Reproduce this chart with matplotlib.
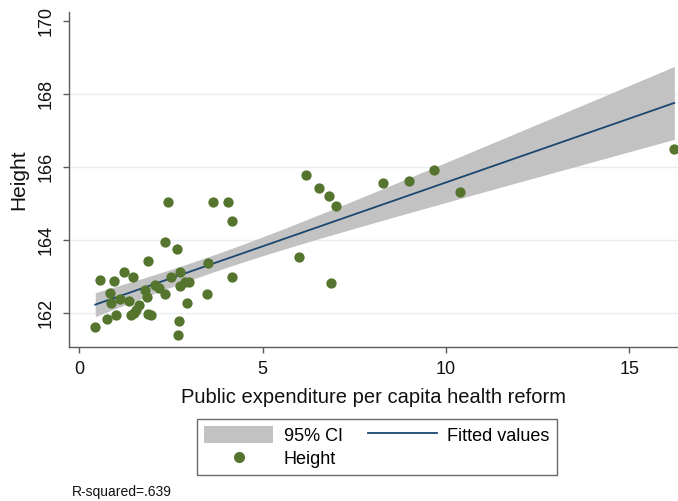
import numpy as np
import matplotlib
matplotlib.use("Agg")
import matplotlib.pyplot as plt
from matplotlib.patches import Patch
from matplotlib.lines import Line2D

plt.rcParams["font.family"] = ["Liberation Sans", "DejaVu Sans"]

# Public expenditure per capita (health reform) and average height
expenditure = [0.43, 0.57, 0.75, 0.82, 0.86, 0.93, 0.99, 1.10, 1.22, 1.36,
               1.40, 1.47, 1.49, 1.55, 1.61, 1.79, 1.85, 1.88, 1.87, 1.94,
               2.07, 2.17, 2.32, 2.33, 2.42, 2.49, 2.66, 2.73, 2.75, 2.71,
               2.69, 2.88, 3.00, 2.93, 3.48, 3.51, 3.64, 4.05, 4.17, 4.17,
               5.98, 6.18, 6.54, 6.81, 6.86, 7.00, 8.28, 8.99, 9.68, 10.39,
               16.23]
height = [161.62, 162.90, 161.84, 162.53, 162.28, 162.86, 161.93, 162.38, 163.11, 162.32,
          161.94, 162.97, 161.98, 162.08, 162.20, 162.62, 162.44, 163.43, 161.97, 161.94,
          162.75, 162.68, 162.52, 163.94, 165.04, 162.97, 163.75, 163.11, 162.74, 161.77,
          161.39, 162.85, 162.85, 162.28, 162.52, 163.37, 165.04, 165.04, 164.52, 162.99,
          163.52, 165.78, 165.41, 165.20, 162.82, 164.93, 165.56, 165.61, 165.91, 165.32,
          166.48]

x_ticks = [0, 5, 10, 15]
y_ticks = [162, 164, 166, 168, 170]
grid_levels = [162, 164, 166, 168]
r_squared_label = "R-squared=.639"

x = np.asarray(expenditure)
y = np.asarray(height)

# OLS fit with 95% confidence band for the mean prediction
n = len(x)
slope, intercept = np.polyfit(x, y, 1)
resid = y - (intercept + slope * x)
s = np.sqrt(np.sum(resid ** 2) / (n - 2))
t_crit = 2.0096  # t(0.975, df=49)
xg = np.linspace(x.min(), x.max(), 200)
yg = intercept + slope * xg
se = s * np.sqrt(1.0 / n + (xg - x.mean()) ** 2 / np.sum((x - x.mean()) ** 2))
lo, hi = yg - t_crit * se, yg + t_crit * se

W, H = 678, 501
fig = plt.figure(figsize=(W / 100, H / 100), dpi=100)
left, right, top, bottom = 68.5, 678, 12, 347
ax = fig.add_axes([left / W, 1 - bottom / H, (right - left) / W, (bottom - top) / H])

green = "#55752f"
navy = "#1a476f"
band = "#c2c2c2"
axis_gray = "#5a5a5a"

for g in grid_levels:
    ax.axhline(g, color="#e6eef0", lw=1.0, zorder=0)

ax.fill_between(xg, lo, hi, color=band, lw=0, zorder=1)
ax.plot(xg, yg, color=navy, lw=1.3, zorder=2)
ax.scatter(x, y, s=55, color=green, lw=0, zorder=3)

ax.set_xlim(-0.30, 16.33)
ax.set_ylim(161.06, 170.25)
ax.set_xticks(x_ticks)
ax.set_yticks(y_ticks)
ax.set_yticklabels([str(v) for v in y_ticks], rotation=90, va="center")

for side in ["top", "right"]:
    ax.spines[side].set_visible(False)
for side in ["left", "bottom"]:
    ax.spines[side].set_color(axis_gray)
    ax.spines[side].set_linewidth(1.0)
ax.tick_params(direction="out", length=4, width=1, color=axis_gray,
               labelsize=13, labelcolor="#111111", pad=6)

ax.set_xlabel("Public expenditure per capita health reform", fontsize=14.5,
              color="#111111", labelpad=7)
ax.set_ylabel("Height", fontsize=15, color="#111111", labelpad=7)

handles = [Patch(facecolor=band, edgecolor="none", label="95% CI"),
           Line2D([], [], ls="none", marker="o", ms=7, color=green, label="Height"),
           Line2D([], [], color=navy, lw=1.3, label="Fitted values")]
leg = fig.legend(handles=handles, ncol=2, loc="center",
                 bbox_to_anchor=(377 / W, 1 - 447 / H), fontsize=13,
                 frameon=True, fancybox=False, edgecolor="#444444",
                 handlelength=3.8, handleheight=1.1, columnspacing=1.4,
                 handletextpad=0.6, borderpad=0.4, labelspacing=0.25)
leg.get_frame().set_linewidth(1.0)

fig.text(72 / W, 1 - 492 / H, r_squared_label, fontsize=10, va="center",
         ha="left", color="#111111")

fig.savefig("out.png", dpi=100)
